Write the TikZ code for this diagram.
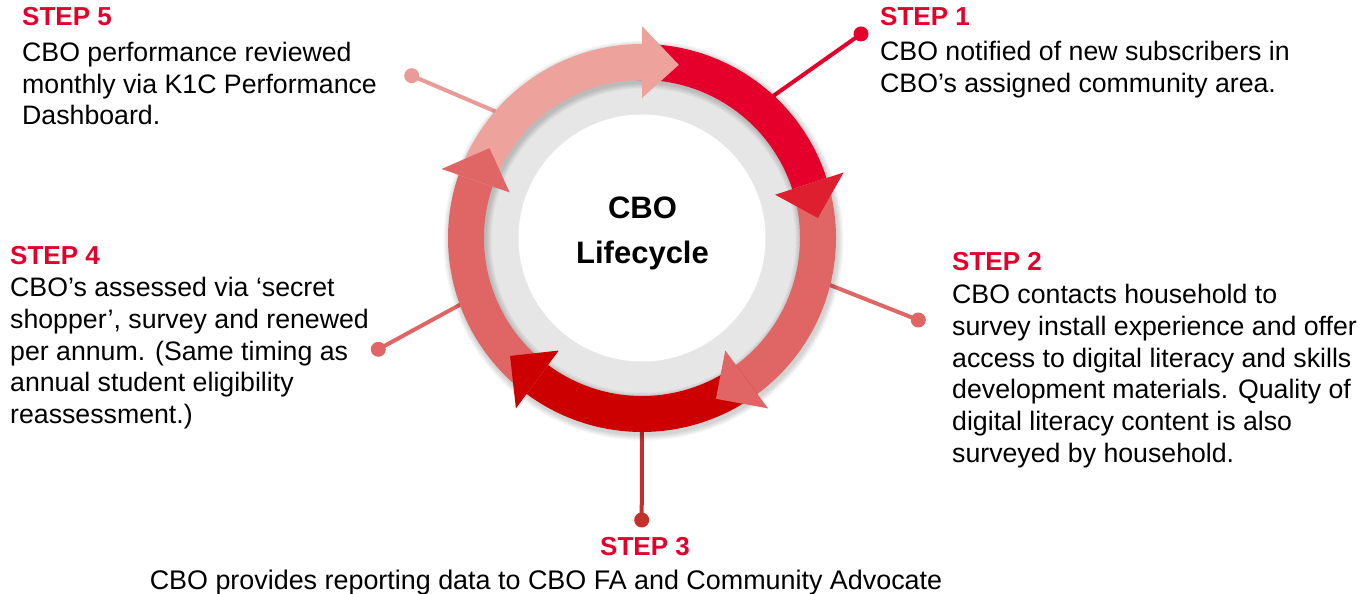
\documentclass[tikz,border=0pt]{standalone}
\usepackage{fontspec}
\setmainfont{Liberation Sans}
\definecolor{crim}{HTML}{E4002B}
\definecolor{crimhead}{HTML}{DD1F2F}
\definecolor{salmon}{HTML}{E06666}
\definecolor{dred}{HTML}{CC0000}
\definecolor{pinkseg}{HTML}{EDA29B}
\definecolor{pinkline}{HTML}{EA9A97}
\definecolor{sthree}{HTML}{C4302B}
\definecolor{ringgray}{HTML}{E6E6E6}
\newcommand{\ringseg}[3]{\fill[#1] (#2:194) arc[start angle=#2, end angle=#3, radius=194] -- (#3:158) arc[start angle=#3, end angle=#2, radius=158] -- cycle;}
\newcommand{\ringhead}[3]{\fill[#1] (#2:140) -- (#2:212) -- (#3:177) -- cycle;}
\tikzset{
  body/.style={anchor=base west, align=left, inner sep=0pt, font=\fontsize{26.7}{31.65}\selectfont, text=black},
  steplab/.style={anchor=base west, inner sep=0pt, font=\bfseries\fontsize{26}{30}\selectfont, text=crim},
  dot/.style={circle, inner sep=0pt, minimum size=15pt},
  conn/.style={line width=4pt},
  title/.style={anchor=base, inner sep=0pt, font=\bfseries\fontsize{31}{45}\selectfont, text=black}
}
\begin{document}
\begin{tikzpicture}[x=1pt,y=1pt]
\useasboundingbox (0,0) rectangle (1362,594);
% connectors
\coordinate (c1) at (759,488);
\node[dot,fill=crim] (d1) at (861,560) {};
\draw[conn,crim] (c1) -- (d1.center);
\coordinate (c2) at (812,316);
\node[dot,fill=salmon] (d2) at (918.3,274) {};
\draw[conn,salmon] (c2) -- (d2.center);
\coordinate (c3) at (642,184);
\node[dot,fill=sthree] (d3) at (641.7,74) {};
\draw[conn,sthree] (c3) -- (d3.center);
\coordinate (c4) at (476,298);
\node[dot,fill=salmon] (d4) at (378.3,244.7) {};
\draw[conn,salmon] (c4) -- (d4.center);
\coordinate (c5) at (513,475);
\node[dot,fill=pinkline] (d5) at (411.7,518.3) {};
\draw[conn,pinkline] (c5) -- (d5.center);
% cycle
\begin{scope}[shift={(642,356)}]
  \fill[ringgray] (0,0) circle (166);
  \foreach \k in {1,...,6}{
    \fill[black, opacity=0.03, even odd rule] (1.5,-2.5) circle (194+\k) (1.5,-2.5) circle (158-\k);
  }
  \fill[white] (0,0) circle (123.5);
  \ringseg{crim}{92}{18}
  \ringseg{salmon}{18}{-53.5}
  \ringseg{dred}{-53.5}{-126.5}
  \ringseg{salmon}{-126.5}{-199}
  \ringseg{pinkseg}{161}{90}
  \ringhead{crimhead}{18}{6.5}
  \ringhead{salmon}{-53.5}{-65.3}
  \ringhead{dred}{-126.5}{-138.2}
  \ringhead{salmon}{161}{149.5}
  \ringhead{pinkseg}{90}{78}
\end{scope}
\node[title] (t1) at (642.5,375.7) {CBO};
\node[title] (t2) at (642.5,330.7) {Lifecycle};
% texts (base anchor = baseline of the last line)
\node[steplab] (s1lab) at (880,568) {STEP 1};
\node[body] (s1txt) at (880,501.85) {CBO notified of new subscribers in\\CBO’s assigned community area.};
\node[steplab] (s2lab) at (952,323.5) {STEP 2};
\node[body] (s2txt) at (952,131.75) {CBO contacts household to\\survey install experience and offer\\access to digital literacy and skills\\development materials. Quality of\\digital literacy content is also\\surveyed by household.};
\node[steplab, anchor=base] (s3lab) at (645,38) {STEP 3};
\node[body, anchor=base, font=\fontsize{26.9}{31.65}\selectfont] (s3txt) at (546,4) {CBO provides reporting data to CBO FA and Community Advocate};
\node[steplab] (s4lab) at (10,329) {STEP 4};
\node[body] (s4txt) at (10,170.4) {CBO’s assessed via ‘secret\\shopper’, survey and renewed\\per annum. (Same timing as\\annual student eligibility\\reassessment.)};
\node[steplab] (s5lab) at (22,568) {STEP 5};
\node[body] (s5txt) at (22,469) {CBO performance reviewed\\monthly via K1C Performance\\Dashboard.};
\end{tikzpicture}
\end{document}
